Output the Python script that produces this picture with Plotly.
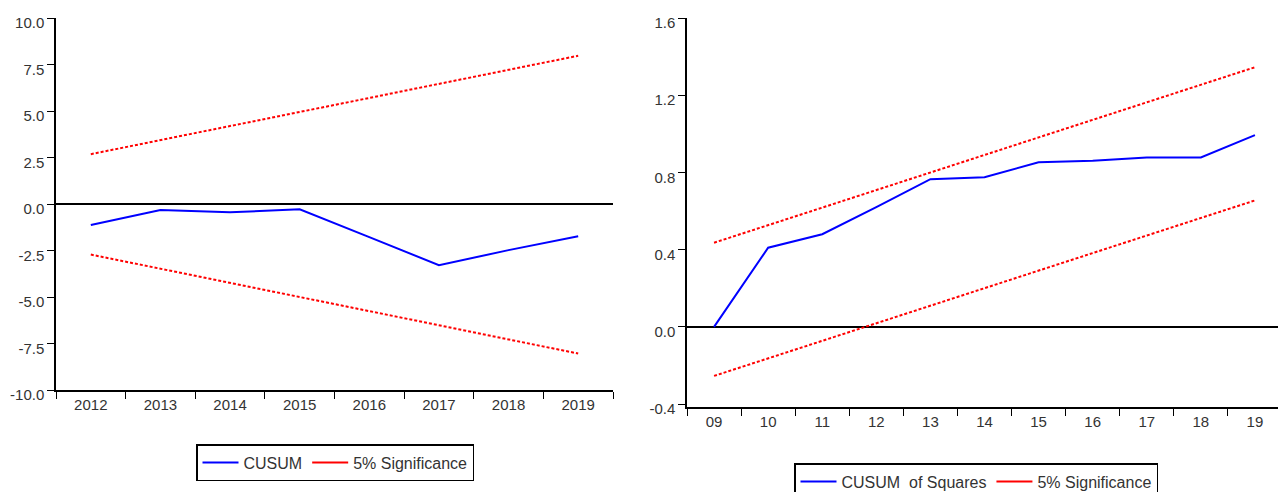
import plotly.graph_objects as go

# ---- Left panel: CUSUM ----
years = ["2012", "2013", "2014", "2015", "2016", "2017", "2018", "2019"]
cusum = [-1.13, -0.32, -0.45, -0.28, -1.78, -3.29, -2.48, -1.73]
cusum_upper = [2.68, 3.44, 4.19, 4.95, 5.70, 6.46, 7.21, 7.97]
cusum_lower = [-2.72, -3.48, -4.24, -5.00, -5.76, -6.52, -7.28, -8.04]
left_tickvals = [-10.0, -7.5, -5.0, -2.5, 0.0, 2.5, 5.0, 7.5, 10.0]
left_ticktext = ["-10.0", "-7.5", "-5.0", "-2.5", "0.0", "2.5", "5.0", "7.5", "10.0"]

# ---- Right panel: CUSUM of Squares ----
periods = ["09", "10", "11", "12", "13", "14", "15", "16", "17", "18", "19"]
cusumsq = [0.0, 0.41, 0.48, 0.62, 0.765, 0.775, 0.853, 0.86, 0.878, 0.878, 0.993]
sq_upper = [0.436, 0.527, 0.618, 0.709, 0.800, 0.891, 0.982, 1.073, 1.163, 1.254, 1.345]
sq_lower = [-0.254, -0.163, -0.072, 0.019, 0.110, 0.201, 0.292, 0.383, 0.474, 0.565, 0.655]
right_tickvals = [-0.4, 0.0, 0.4, 0.8, 1.2, 1.6]
right_ticktext = ["-0.4", "0.0", "0.4", "0.8", "1.2", "1.6"]

# page offset of the plot div (body margin) compensated below
OX, OY = 8, 11
W, H = 1286 - OX, 495 - OY
BLUE = "rgb(0,0,255)"
RED = "rgb(255,0,0)"
FONT = "Liberation Sans, Arial, sans-serif"
TXT = "#333333"

fig = go.Figure()

# left panel traces
fig.add_trace(go.Scatter(x=years, y=cusum, mode="lines", name="CUSUM",
                         line=dict(color=BLUE, width=2), xaxis="x", yaxis="y",
                         legend="legend", showlegend=True))
fig.add_trace(go.Scatter(x=years, y=cusum_upper, mode="lines", name="5% Significance",
                         line=dict(color=RED, width=2, dash="3px,2px"), xaxis="x", yaxis="y",
                         showlegend=False))
fig.add_trace(go.Scatter(x=years, y=cusum_lower, mode="lines", name="5% Significance",
                         line=dict(color=RED, width=2, dash="3px,2px"), xaxis="x", yaxis="y",
                         showlegend=False))
fig.add_trace(go.Scatter(x=[None], y=[None], mode="lines", name="5% Significance",
                         line=dict(color=RED, width=2), xaxis="x", yaxis="y",
                         legend="legend", showlegend=True))

# right panel traces
fig.add_trace(go.Scatter(x=periods, y=cusumsq, mode="lines", name="CUSUM  of Squares",
                         line=dict(color=BLUE, width=2), xaxis="x2", yaxis="y2",
                         legend="legend2", showlegend=True))
fig.add_trace(go.Scatter(x=periods, y=sq_upper, mode="lines", name="5% Significance",
                         line=dict(color=RED, width=2, dash="3px,2px"), xaxis="x2", yaxis="y2",
                         showlegend=False))
fig.add_trace(go.Scatter(x=periods, y=sq_lower, mode="lines", name="5% Significance",
                         line=dict(color=RED, width=2, dash="3px,2px"), xaxis="x2", yaxis="y2",
                         showlegend=False))
fig.add_trace(go.Scatter(x=[None], y=[None], mode="lines", name="5% Significance",
                         line=dict(color=RED, width=2), xaxis="x2", yaxis="y2",
                         legend="legend2", showlegend=True))

def px_x(p):
    return (p - OX) / W

def px_y(p):
    return (H - (p - OY)) / H

xcommon = dict(type="category", showline=True, linecolor="black", linewidth=1.5,
               ticks="outside", ticklen=7, tickcolor="black", tickwidth=1,
               tickson="boundaries", showgrid=False, zeroline=False, automargin=False,
               tickfont=dict(family=FONT, size=15, color=TXT), fixedrange=True)
ycommon = dict(showline=True, linecolor="black", linewidth=1.5,
               ticks="outside", ticklen=7, tickcolor="black", tickwidth=1,
               showgrid=False, zeroline=True, zerolinecolor="black", zerolinewidth=1.5,
               automargin=False, ticklabelshift=5,
               tickfont=dict(family=FONT, size=15, color=TXT), fixedrange=True)

legcommon = dict(orientation="h", xanchor="left", yanchor="top",
                 bordercolor="black", borderwidth=1.5, bgcolor="white",
                 font=dict(family=FONT, size=16, color=TXT), itemwidth=36,
                 tracegroupgap=0)

fig.update_layout(
    width=W, height=H,
    margin=dict(l=0, r=0, t=0, b=0, autoexpand=False),
    paper_bgcolor="white", plot_bgcolor="white",
    font=dict(family=FONT, size=15, color=TXT),
    xaxis=dict(xcommon, domain=[px_x(56), px_x(613)], anchor="y",
               range=[-0.5, len(years) - 0.5]),
    yaxis=dict(ycommon, domain=[px_y(393), px_y(21)], anchor="x",
               range=[-10, 10], tickvals=left_tickvals, ticktext=left_ticktext),
    xaxis2=dict(xcommon, domain=[px_x(687), min(1.0, px_x(1282))], anchor="y2",
                range=[-0.5, len(periods) - 0.5]),
    yaxis2=dict(ycommon, domain=[px_y(410), px_y(21)], anchor="x2",
                range=[-0.415, 1.6], tickvals=right_tickvals, ticktext=right_ticktext),
    legend=dict(legcommon, x=px_x(196), y=px_y(447)),
    legend2=dict(legcommon, x=px_x(794), y=px_y(466)),
)

fig.write_html("out.html")
